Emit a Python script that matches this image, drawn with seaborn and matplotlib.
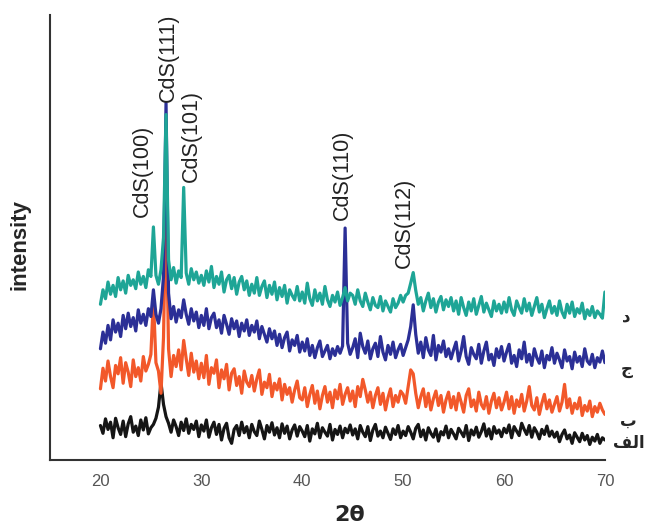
import numpy as np
import pandas as pd
import seaborn as sns
import matplotlib.pyplot as plt

# 2-theta grid, 0.25 deg steps from 20 to 70
two_theta = np.linspace(20, 70, 201)

# intensities (arbitrary units), 20 values per 5 degrees
alef = [62, 48, 74, 55, 68, 40, 75, 58, 46, 70, 42, 65, 78, 50, 61, 44, 72, 54, 76, 47,
        58, 64, 75, 95, 139, 100, 78, 66, 50, 72, 60, 44, 68, 53, 74, 48, 64, 55, 70, 42,
        63, 52, 72, 41, 58, 68, 46, 64, 36, 57, 66, 40, 30, 55, 62, 44, 68, 49, 60, 40,
        64, 51, 44, 70, 55, 38, 62, 50, 67, 45, 58, 40, 65, 48, 61, 38, 54, 63, 43, 60,
        52, 42, 62, 34, 56, 47, 66, 40, 58, 50, 43, 64, 36, 55, 46, 61, 40, 57, 49, 63,
        45, 56, 38, 62, 50, 42, 60, 35, 54, 64, 43, 52, 40, 59, 48, 37, 56, 46, 62, 40,
        52, 44, 60, 50, 38, 57, 64, 42, 54, 36, 58, 48, 41, 56, 34, 51, 45, 61, 40, 55,
        47, 38, 57, 50, 42, 62, 35, 54, 45, 59, 41, 51, 65, 43, 56, 38, 60, 48, 54, 42,
        57, 49, 63, 40, 60, 52, 44, 66, 55, 46, 62, 41, 58, 50, 38, 55, 46, 61, 43, 52,
        41, 50, 33, 46, 54, 38, 45, 30, 49, 41, 33, 48, 36, 44, 28, 41, 34, 46, 30, 40,
        36]

be = [128, 165, 142, 178, 150, 130, 170, 155, 184, 138, 175, 158, 132, 180, 150, 166, 142, 186, 160, 172,
      190, 290, 175, 160, 120, 220, 470, 200, 150, 188, 168, 198, 162, 215, 182, 152, 192, 158, 178, 146,
      174, 148, 188, 136, 166, 156, 180, 130, 162, 146, 172, 126, 156, 164, 134, 150, 120, 160, 140, 132,
      152, 124, 146, 162, 118, 140, 130, 154, 114, 138, 126, 146, 108, 136, 118, 130, 104, 126, 142, 112,
      108, 130, 96, 118, 134, 102, 124, 92, 116, 132, 104, 122, 94, 126, 110, 136, 100, 118, 130, 106,
      124, 96, 132, 114, 145, 126, 104, 122, 94, 116, 130, 100, 120, 90, 112, 128, 96, 116, 104, 124,
      118, 102, 132, 162, 155, 120, 94, 114, 128, 96, 120, 90, 110, 124, 98, 116, 86, 108, 122, 94,
      114, 90, 120, 104, 86, 116, 128, 96, 108, 88, 122, 100, 92, 114, 84, 106, 120, 94, 112, 90,
      104, 122, 92, 114, 84, 108, 96, 118, 88, 106, 132, 98, 90, 112, 82, 102, 118, 92, 108, 86,
      100, 114, 88, 104, 136, 94, 110, 84, 102, 92, 112, 80, 98, 88, 106, 78, 96, 86, 102, 90,
      82]

jim = [200, 230, 210, 242, 216, 252, 230, 246, 222, 260, 236, 264, 240, 256, 232, 270, 246, 262, 242, 272,
       258, 306, 262, 246, 272, 330, 642, 300, 254, 276, 248, 270, 256, 288, 262, 244, 272, 250, 266, 238,
       260, 242, 272, 236, 256, 264, 238, 252, 228, 260, 244, 226, 254, 236, 250, 222, 246, 232, 252, 224,
       242, 230, 250, 218, 240, 226, 212, 236, 218, 232, 206, 226, 202, 220, 230, 196, 216, 206, 224, 194,
       212, 196, 218, 188, 206, 184, 202, 214, 186, 196, 206, 182, 200, 188, 204, 192, 205, 417, 210, 190,
       202, 218, 184, 228, 204, 192, 214, 182, 200, 210, 186, 222, 194, 180, 206, 190, 212, 184, 198, 208,
       188, 202, 216, 240, 279, 226, 192, 212, 184, 220, 198, 188, 224, 180, 206, 194, 214, 186, 200, 182,
       198, 212, 178, 196, 222, 186, 172, 202, 190, 182, 208, 174, 196, 212, 180, 190, 170, 200, 184, 204,
       178, 194, 208, 174, 188, 168, 198, 182, 212, 176, 190, 170, 200, 184, 174, 196, 166, 188, 180, 202,
       174, 192, 180, 166, 198, 178, 186, 164, 194, 176, 186, 168, 200, 178, 172, 190, 166, 184, 176, 196,
       175]

dal = [280, 306, 290, 320, 298, 314, 294, 328, 306, 322, 300, 332, 314, 324, 308, 338, 316, 330, 310, 342,
       330, 419, 332, 316, 342, 400, 621, 360, 324, 346, 318, 340, 328, 490, 336, 316, 344, 324, 338, 318,
       332, 314, 340, 320, 348, 310, 330, 316, 338, 302, 324, 332, 308, 328, 298, 320, 330, 306, 322, 296,
       316, 300, 328, 296, 312, 322, 292, 314, 298, 320, 288, 310, 294, 314, 282, 306, 296, 288, 312, 286,
       302, 282, 318, 290, 278, 306, 286, 300, 280, 312, 288, 276, 296, 284, 302, 278, 292, 310, 286, 300,
       296, 280, 306, 286, 276, 300, 284, 270, 292, 278, 274, 294, 268, 286, 276, 266, 290, 274, 282, 296,
       284, 296, 300, 318, 337, 305, 280, 292, 268, 286, 300, 274, 290, 266, 284, 294, 270, 288, 276, 292,
       268, 286, 262, 292, 274, 260, 284, 268, 290, 262, 278, 294, 266, 282, 270, 258, 286, 268, 280, 264,
       284, 266, 292, 270, 260, 286, 274, 264, 290, 268, 282, 260, 276, 292, 266, 280, 256, 272, 286, 264,
       276, 260, 286, 266, 256, 280, 264, 284, 258, 272, 264, 282, 254, 270, 260, 276, 256, 268, 262, 255,
       302]

samples = ["alef", "be", "jim", "dal"]
sample_labels = ["\ufed2\ufedf\ufe8d", "ب", "ج", "د"]  # الف in presentation forms (visual order)
colors = ["#151515", "#f2582a", "#2b2f96", "#1ea596"]
label_y = [30, 70, 164, 258]
label_x = [73.9, 72.3, 72.2, 72.1]

peak_names = ["CdS(100)", "CdS(111)", "CdS(101)", "CdS(110)", "CdS(112)"]
peak_x = [24.2, 26.7, 29.0, 44.0, 50.15]
peak_y = [436, 643, 500, 432, 346]

df = pd.concat([
    pd.DataFrame({"2θ": two_theta, "intensity": vals, "sample": name})
    for name, vals in zip(samples, [alef, be, jim, dal])
])

sns.set_style("white")
plt.rcParams["font.family"] = ["Liberation Sans", "DejaVu Sans"]

fig = plt.figure(figsize=(6.46, 5.27), dpi=100)
ax = fig.add_axes([0.0774, 0.1271, 0.859, 0.8444])

sns.lineplot(data=df, x="2θ", y="intensity", hue="sample", hue_order=samples,
             palette=colors, sort=False, estimator=None, linewidth=2.3,
             legend=False, ax=ax)

for name, x, y in zip(peak_names, peak_x, peak_y):
    ax.text(x, y, name, rotation=90, ha="center", va="bottom",
            fontsize=15.5, color="#222222")

for lab, x, y in zip(sample_labels, label_x, label_y):
    ax.text(x, y, lab, ha="right" if len(lab) > 1 else "center", va="center",
            fontsize=12, fontweight="bold", family=["DejaVu Sans"], clip_on=False)

ax.set_xlim(15, 70)
ax.set_ylim(0, 800)
ax.set_xticks([20, 30, 40, 50, 60, 70])
ax.set_xticks([25, 35, 45, 55, 65], minor=True)
ax.set_yticks(range(0, 801, 100))
ax.set_yticklabels([])
ax.tick_params(axis="x", which="major", direction="in", length=7, width=1.3,
               colors="#333333", labelcolor="#555555", labelsize=12, pad=10)
ax.tick_params(axis="x", which="minor", direction="in", length=3.5, width=1.3,
               colors="#333333")
ax.tick_params(axis="y", direction="in", length=5, width=1.3, colors="#333333")

for side in ["top", "right"]:
    ax.spines[side].set_visible(False)
for side in ["left", "bottom"]:
    ax.spines[side].set_color("#333333")
    ax.spines[side].set_linewidth(1.5)

ax.set_xlabel("2θ", fontsize=16, fontweight="bold", family=["DejaVu Sans"])
ax.set_ylabel("intensity", fontsize=16, fontweight="bold")
ax.xaxis.set_label_coords(0.54, -0.101)
ax.yaxis.set_label_coords(-0.036, 0.485)

fig.savefig("out.png", dpi=100)
